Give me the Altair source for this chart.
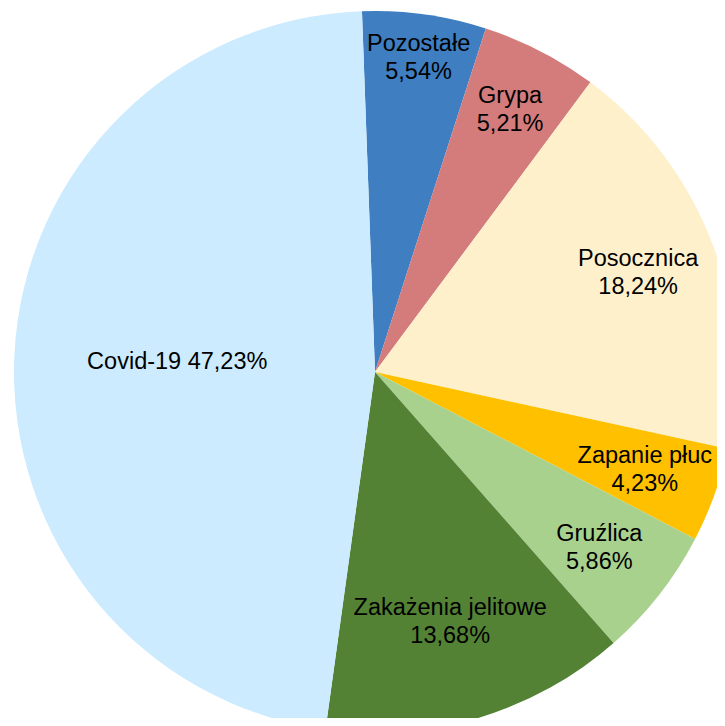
import math
import altair as alt
import pandas as pd

categories = ["Pozostałe", "Grypa", "Posocznica", "Zapanie płuc", "Gruźlica",
              "Zakażenia jelitowe", "Covid-19"]
values = [5.54, 5.21, 18.24, 4.23, 5.86, 13.68, 47.23]
labels = ["Pozostałe\n5,54%", "Grypa\n5,21%", "Posocznica\n18,24%",
          "Zapanie płuc\n4,23%", "Gruźlica\n5,86%",
          "Zakażenia jelitowe\n13,68%", "Covid-19 47,23%"]
colors = ["#3E7EC1", "#D47C7C", "#FFF0CC", "#FFC000", "#A9D18E",
          "#548235", "#CCEBFF"]

df = pd.DataFrame({"cat": categories, "value": values, "label": labels,
                   "idx": list(range(len(categories)))})

# style constants
CX, CY, R = 367, 364, 361
START = -math.radians(2.07)
LABEL_RADIUS = {"Pozostałe": 317, "Grypa": 295, "Posocznica": 281,
                "Zapanie płuc": 287, "Gruźlica": 285,
                "Zakażenia jelitowe": 261, "Covid-19": 198}
FONT = "Liberation Sans"

theta = alt.Theta("value:Q", stack=True,
                  scale=alt.Scale(range=[START, START + 2 * math.pi]))
order = alt.Order("idx:Q")

base = alt.Chart(df)

pie = base.mark_arc(radius=R).encode(
    theta=theta,
    order=order,
    color=alt.Color("cat:N", scale=alt.Scale(domain=categories, range=colors),
                    legend=None),
    x=alt.value(CX),
    y=alt.value(CY),
)

layers = [pie]
for cat, lab in zip(categories, labels):
    nlines = lab.count("\n") + 1
    layers.append(
        base.mark_text(radius=LABEL_RADIUS[cat], font=FONT, fontSize=23.5,
                       lineBreak="\n", lineHeight=28, color="#000000",
                       align="center", baseline="middle",
                       dy=-(nlines - 1) * 14).encode(
            theta=theta,
            order=order,
            text="label:N",
            x=alt.value(CX),
            y=alt.value(CY),
            opacity=alt.condition(alt.datum.cat == cat, alt.value(1), alt.value(0)),
        )
    )

chart = alt.layer(*layers).properties(
    width=709, height=710, padding=0, background="white",
    autosize=alt.AutoSizeParams(type="none"),
).configure_view(strokeWidth=0)

chart.save("out.html", embed_options={"renderer": "svg", "actions": False})
